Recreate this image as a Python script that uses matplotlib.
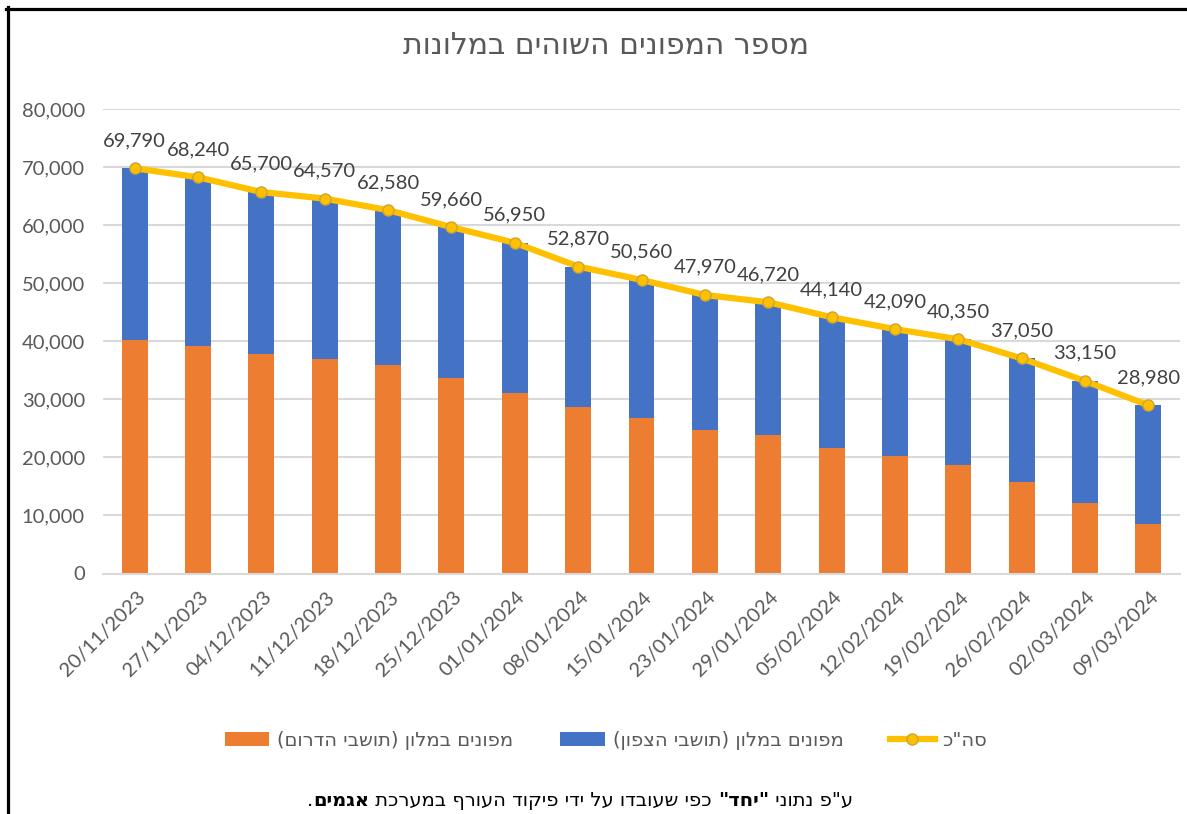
import matplotlib
matplotlib.use('Agg')
import matplotlib.pyplot as plt
import numpy as np
from matplotlib.lines import Line2D
from matplotlib.ticker import FuncFormatter

# data
dates = ['20/11/2023', '27/11/2023', '04/12/2023', '11/12/2023', '18/12/2023', '25/12/2023',
         '01/01/2024', '08/01/2024', '15/01/2024', '23/01/2024', '29/01/2024', '05/02/2024',
         '12/02/2024', '19/02/2024', '26/02/2024', '02/03/2024', '09/03/2024']
total = [69790, 68240, 65700, 64570, 62580, 59660, 56950, 52870, 50560,
         47970, 46720, 44140, 42090, 40350, 37050, 33150, 28980]
south = [40200, 39200, 37800, 37000, 35900, 33600, 31100, 28600, 26700,
         24800, 23800, 21700, 20300, 18700, 15800, 12100, 8600]
north = [29590, 29040, 27900, 27570, 26680, 26060, 25850, 24270, 23860,
         23170, 22920, 22440, 21790, 21650, 21250, 21050, 20380]

title_he = 'מספר המפונים השוהים במלונות'
label_south = 'מפונים במלון (תושבי הדרום)'
label_north = 'מפונים במלון (תושבי הצפון)'
label_total = 'סה"כ'
footer_parts = [('ע"פ נתוני ', False), ('"יחד"', True),
                (' כפי שעובדו על ידי פיקוד העורף במערכת ', False),
                ('אגמים', True), ('.', False)]


def rtl(s):
    # matplotlib has no bidi support -> put hebrew in visual order
    swap = {'(': ')', ')': '('}
    return ''.join(swap.get(c, c) for c in reversed(s))


plt.rcParams['font.family'] = ['Lato', 'DejaVu Sans']
heb = ['Liberation Sans Narrow', 'DejaVu Sans']
gray = '#595959'
W, H = 1187, 814

fig = plt.figure(figsize=(W / 100, H / 100), dpi=100)
ax = fig.add_axes([103 / W, 1 - 573.5 / H, (1180 - 103) / W, (573.5 - 109) / H])

x = np.arange(len(dates))
b1 = ax.bar(x, south, width=0.41, color='#ED7D31', label=rtl(label_south), zorder=2)
b2 = ax.bar(x, north, bottom=south, width=0.41, color='#4472C4', label=rtl(label_north), zorder=2)
l1, = ax.plot(x, total, color='#FFC000', lw=4.5, marker='o', ms=8, mfc='#FFC000',
              mec='#C9A43A', mew=1, label=rtl(label_total), zorder=3)

for xi, t in zip(x, total):
    ax.annotate(f'{t:,}', (xi, t), xytext=(0, 16), textcoords='offset points',
                ha='center', va='baseline', fontsize=14.5, color='#404040')

ax.set_xlim(-0.5, 16.5)
ax.set_ylim(0, 80000)
ax.set_yticks(range(0, 80001, 10000))
ax.yaxis.set_major_formatter(FuncFormatter(lambda v, p: f'{v:,.0f}'))
ax.grid(axis='y', color='#D9D9D9', lw=1.5, zorder=0)
ax.set_axisbelow(True)
for s in ['top', 'right', 'left']:
    ax.spines[s].set_visible(False)
ax.spines['bottom'].set_color('#D9D9D9')
ax.spines['bottom'].set_linewidth(1.5)
ax.tick_params(length=0, colors=gray, labelsize=14.5)
ax.tick_params(axis='y', pad=13)
ax.tick_params(axis='x', pad=15)
ax.set_xticks(x + 0.12)
ax.set_xticklabels(dates, rotation=45, ha='right', va='center', rotation_mode='anchor')

fig.text(606 / W, 1 - 45 / H, rtl(title_he), ha='center', va='center',
         fontsize=21.5, color=gray, family=heb)

fig.legend(handles=[b1, b2, l1], loc='center', bbox_to_anchor=(606 / W, 1 - 740 / H), ncol=3,
           frameon=False, prop={'family': heb, 'size': 14}, labelcolor=gray,
           handlelength=2.3, handleheight=0.72, handletextpad=0.4, columnspacing=2.4)

# footer with bold words, laid out piece by piece
renderer = fig.canvas.get_renderer()
pieces = []
for s, bold in reversed(footer_parts):
    t = fig.text(0, 1 - 806 / H, rtl(s), fontsize=14, family=heb, color='black',
                 fontweight='bold' if bold else 'normal', ha='left', va='baseline')
    pieces.append(t)
widths = [t.get_window_extent(renderer).width for t in pieces]
x0 = 580 - sum(widths) / 2
for t, w in zip(pieces, widths):
    t.set_x(x0 / W)
    x0 += w

# screenshot frame on the left and top
fig.add_artist(Line2D([7.5 / W, 7.5 / W], [0, 1 - 7 / H], color='black', lw=2.3))
fig.add_artist(Line2D([6 / W, 1], [1 - 8.5 / H, 1 - 8.5 / H], color='black', lw=2.3))

fig.savefig('out.png', dpi=100)
